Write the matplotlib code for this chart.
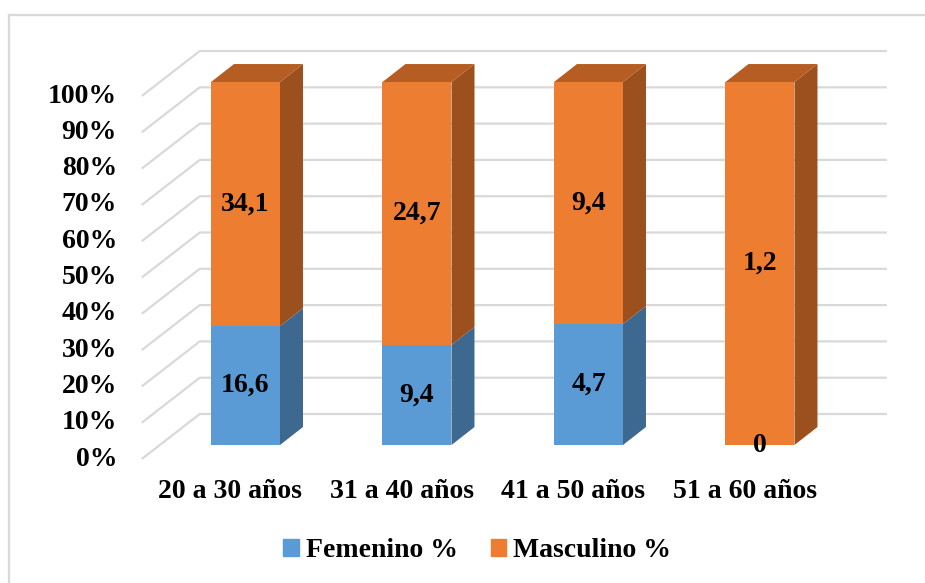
import numpy as np
import matplotlib.pyplot as plt
from matplotlib.lines import Line2D
from matplotlib.patches import Patch

plt.rcParams['font.family'] = ['Liberation Serif', 'DejaVu Serif']
plt.rcParams['font.weight'] = 'bold'

categorias = ['20 a 30 años', '31 a 40 años', '41 a 50 años', '51 a 60 años']
femenino = [16.6, 9.4, 4.7, 0]
masculino = [34.1, 24.7, 9.4, 1.2]
etiquetas_fem = ['16,6', '9,4', '4,7', '0']
etiquetas_masc = ['34,1', '24,7', '9,4', '1,2']
ticks = list(range(0, 101, 10))

# colores: frente, lado, tapa
azul = ('#5B9BD5', '#3D6890', '#4A80B0')
naranja = ('#ED7D31', '#9C501D', '#B55D23')
gris = '#D9D9D9'

fem = np.array(femenino)
masc = np.array(masculino)
pct_fem = fem / (fem + masc) * 100
pct_masc = 100 - pct_fem

fig = plt.figure(figsize=(9.25, 5.83), dpi=100)
ax = fig.add_axes([0.1727, 0.2367, 0.7416, 0.6226])
ax.set_xlim(-0.5, 3.5)
ax.set_ylim(0, 100)
ax.axis('off')

# profundidad en unidades de datos
px_x = 171.5  # px por categoria
px_y = 3.63   # px por punto porcentual
bar_dx, bar_dy = 23 / px_x, 18 / px_y
back_dx, back_dy = 40 / px_x, 31 / px_y
front_dx, front_dy = -18 / px_x, -14 / px_y
x_der = 3.74
ancho = 69 / px_x

# rejilla: pared izquierda y pared del fondo
for v in ticks:
    x0 = -0.5 + front_dx
    x1 = -0.5 + back_dx
    ax.plot([x0, x1, x_der], [v + front_dy, v + back_dy, v + back_dy],
            color=gris, lw=1.6, zorder=1, clip_on=False, solid_capstyle='butt')
    ax.text(-0.749, v + front_dy, f'{v}%', ha='right', va='center',
            fontsize=20, fontweight='bold', clip_on=False)

x = np.arange(len(categorias))
for i in x:
    xl = i - ancho / 2
    xr = i + ancho / 2
    segs = [(0, pct_fem[i], azul), (pct_fem[i], 100, naranja)]
    for y0, y1, col in segs:
        if y1 - y0 <= 0:
            continue
        ax.fill([xr, xr + bar_dx, xr + bar_dx, xr],
                [y0, y0 + bar_dy, y1 + bar_dy, y1],
                color=col[1], lw=0, zorder=3, clip_on=False)
    ax.fill([xl, xl + bar_dx, xr + bar_dx, xr],
            [100, 100 + bar_dy, 100 + bar_dy, 100],
            color=naranja[2], lw=0, zorder=3, clip_on=False)

ax.bar(x, pct_fem, width=ancho, color=azul[0], zorder=4, clip_on=False)
ax.bar(x, pct_masc, bottom=pct_fem, width=ancho, color=naranja[0], zorder=4, clip_on=False)

for i in x:
    ax.text(i, pct_fem[i] / 2, etiquetas_fem[i], ha='center', va='center',
            fontsize=20, fontweight='bold', zorder=5, clip_on=False)
    ax.text(i, pct_fem[i] + pct_masc[i] / 2, etiquetas_masc[i], ha='center', va='center',
            fontsize=20, fontweight='bold', zorder=5, clip_on=False)
    ax.text(i - 0.09, -12.9, categorias[i], ha='center', va='center',
            fontsize=20, fontweight='bold', clip_on=False)

handles = [Patch(color=azul[0], label='Femenino %'),
           Patch(color=naranja[0], label='Masculino %')]
fig.legend(handles=handles, loc='center', bbox_to_anchor=(0.516, 0.055), ncol=2,
           frameon=False, fontsize=20, handlelength=0.55, handleheight=0.55,
           handletextpad=0.25, columnspacing=1.2)

# marco del grafico
fig.add_artist(Line2D([9 / 925, 1], [1 - 15 / 583, 1 - 15 / 583], color=gris, lw=1.6))
fig.add_artist(Line2D([9 / 925, 9 / 925], [0, 1 - 15 / 583], color=gris, lw=1.6))

fig.savefig('out.png', dpi=100)
